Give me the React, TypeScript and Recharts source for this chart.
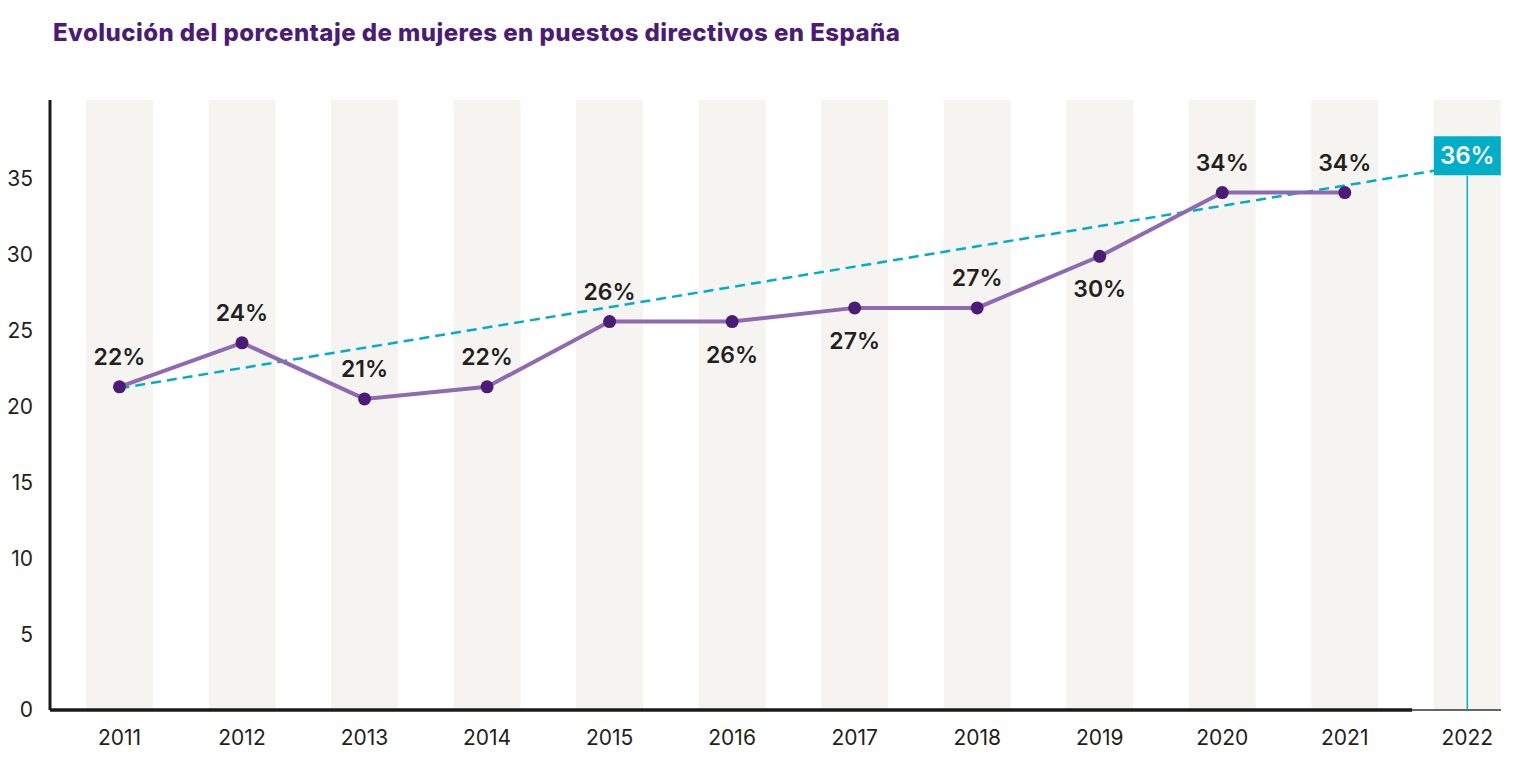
import {
  ComposedChart,
  Line,
  LabelList,
  ReferenceArea,
  ReferenceLine,
  XAxis,
  YAxis,
} from "recharts";

const years = [2011, 2012, 2013, 2014, 2015, 2016, 2017, 2018, 2019, 2020, 2021, 2022];
const share = [21.3, 24.2, 20.5, 21.3, 25.6, 25.6, 26.5, 26.5, 29.9, 34.1, 34.1, null];
const shareLabels = ["22%", "24%", "21%", "22%", "26%", "26%", "27%", "27%", "30%", "34%", "34%"];
const labelSide = ["top", "top", "top", "top", "top", "bottom", "bottom", "top", "bottom", "top", "top"];
const trend = [21.2, null, null, null, null, null, null, null, null, null, null, 35.9];
const trendLabel = "36%";
const yTicks = [0, 5, 10, 15, 20, 25, 30, 35];

const Y_MAX = 40.2;
const X_MIN = 2010.433;
const X_MAX = 2022.275;
const BAND_HALF = 0.2735;
const FORECAST_START = 2021.55;
const MARKER_TOP = 35.2;

const PURPLE = "#4b1b78";
const LINE = "#8e6bb0";
const CYAN = "#00aec8";
const INK = "#231f20";
const BAND = "#f5f4f1";
const FONT = "Inter, 'Noto Sans', sans-serif";

const data = years.map((year, i) => ({ year, share: share[i], trend: trend[i] }));

function ShareLabel(props: any) {
  const { x, y, index } = props;
  if (x == null || y == null || shareLabels[index] == null) return null;
  const dy = labelSide[index] === "top" ? -30 : 33;
  return (
    <text
      x={x}
      y={y + dy}
      textAnchor="middle"
      dominantBaseline="central"
      fontFamily={FONT}
      fontSize={23}
      fontWeight={600}
      fill={INK}
    >
      {shareLabels[index]}
    </text>
  );
}

function TrendLabel(props: any) {
  const { x, y, index } = props;
  if (x == null || y == null || index !== years.length - 1) return null;
  return (
    <g>
      <rect x={x - 33.5} y={y - 29} width={67} height={39} fill={CYAN} />
      <text
        x={x}
        y={y - 9.5}
        textAnchor="middle"
        dominantBaseline="central"
        fontFamily={FONT}
        fontSize={24}
        fontWeight={600}
        fill="#ffffff"
      >
        {trendLabel}
      </text>
    </g>
  );
}

export default function App() {
  return (
    <div style={{ position: "relative", width: 1530, height: 756, background: "#ffffff" }}>
      <div
        style={{
          position: "absolute",
          left: 45,
          top: 10,
          fontFamily: FONT,
          fontSize: 24,
          fontWeight: 800,
          color: PURPLE,
          letterSpacing: 0.45,
        }}
      >
        Evolución del porcentaje de mujeres en puestos directivos en España
      </div>
      <ComposedChart
        width={1530}
        height={756}
        data={data}
        margin={{ top: 92, right: 37, left: 0, bottom: 10 }}
      >
        {years.map((year) => (
          <ReferenceArea
            key={year}
            x1={year - BAND_HALF}
            x2={year + BAND_HALF}
            y1={0}
            y2={Y_MAX}
            fill={BAND}
            fillOpacity={1}
            stroke="none"
          />
        ))}
        <XAxis
          dataKey="year"
          type="number"
          domain={[X_MIN, X_MAX]}
          ticks={years}
          allowDataOverflow
          height={44}
          axisLine={false}
          tickLine={false}
          tickSize={0}
          tickMargin={20}
          tick={{ fontSize: 21, fill: INK, fontFamily: FONT }}
        />
        <YAxis
          type="number"
          domain={[0, Y_MAX]}
          ticks={yTicks}
          allowDataOverflow
          width={42}
          axisLine={{ stroke: "#1a1a1a", strokeWidth: 3 }}
          tickLine={false}
          tickSize={0}
          tickMargin={17}
          tick={{ fontSize: 21, fill: INK, fontFamily: FONT }}
        />
        <ReferenceLine
          segment={[
            { x: X_MIN, y: 0 },
            { x: FORECAST_START, y: 0 },
          ]}
          stroke="#1a1a1a"
          strokeWidth={3.5}
        />
        <ReferenceLine
          segment={[
            { x: FORECAST_START, y: 0 },
            { x: X_MAX, y: 0 },
          ]}
          stroke="#333333"
          strokeWidth={1.5}
        />
        <ReferenceLine
          segment={[
            { x: 2022, y: 0 },
            { x: 2022, y: MARKER_TOP },
          ]}
          stroke={CYAN}
          strokeWidth={1.5}
        />
        <Line
          dataKey="trend"
          stroke={CYAN}
          strokeWidth={2.5}
          strokeDasharray="10 6"
          dot={false}
          activeDot={false}
          connectNulls
          isAnimationActive={false}
        >
          <LabelList dataKey="trend" content={<TrendLabel />} />
        </Line>
        <Line
          dataKey="share"
          stroke={LINE}
          strokeWidth={4}
          dot={{ r: 6.5, fill: PURPLE, stroke: "none" }}
          activeDot={false}
          isAnimationActive={false}
        >
          <LabelList dataKey="share" content={<ShareLabel />} />
        </Line>
      </ComposedChart>
    </div>
  );
}
